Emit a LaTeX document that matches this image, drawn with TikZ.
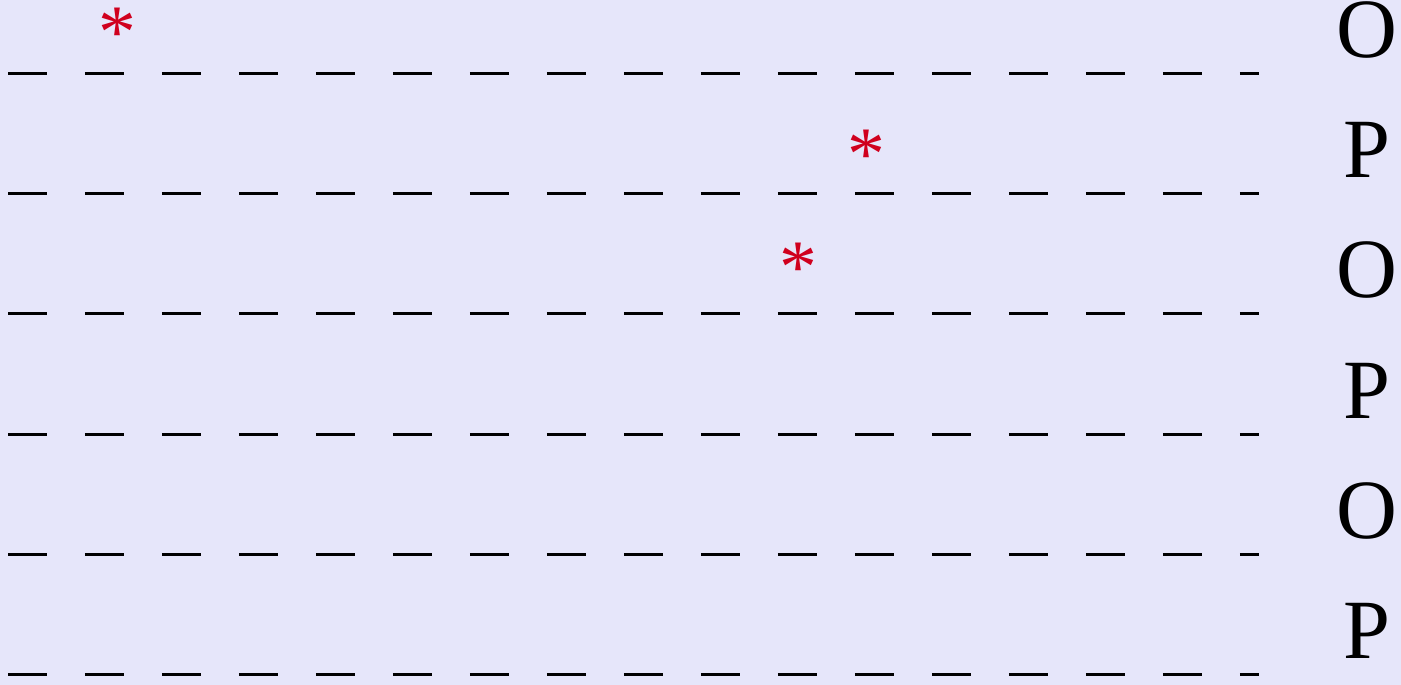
\documentclass[tikz,border=0pt]{standalone}
\usepackage{fontspec}
\setmainfont{Liberation Serif}
\usetikzlibrary{positioning}
\definecolor{bgpanel}{RGB}{230,230,250}
\definecolor{starred}{RGB}{208,0,30}
\begin{document}
\begin{tikzpicture}[x=0.02cm,y=-0.02cm,
  track/.style={line width=0.06cm,dash pattern=on 0.79cm off 0.75cm},
  tag/.style={font=\fontsize{48}{48}\selectfont,anchor=base,inner sep=0pt},
  star/.style={text=starred,font=\fontsize{43}{43}\selectfont,anchor=north,inner sep=0pt}]
\fill[bgpanel] (0,0) rectangle (1401,685);
% six rows, one label each
\foreach \y/\t [count=\i] in {74/O,194/P,314/O,435/P,555/O,675/P}{
  \coordinate (left\i) at (8,\y);
  \coordinate (right\i) at (1259,\y);
  \draw[track] (left\i) -- (right\i);
  \node[tag] (tag\i) at (1367,\y-16) {\t};
}
\node[star] (star1) at (117,8) {*};
\node[star] (star2) at (866,130) {*};
\node[star] (star3) at (798,243) {*};
\end{tikzpicture}
\end{document}
